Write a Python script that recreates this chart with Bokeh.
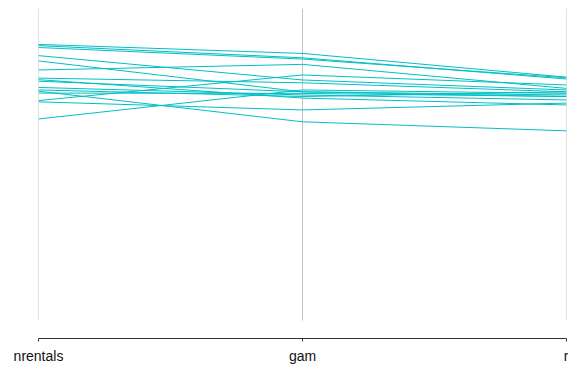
from bokeh.plotting import figure
from bokeh.models import FixedTicker, Range1d, LinearAxis
from bokeh.embed import file_html
from bokeh.resources import INLINE

# Parallel-coordinate values (scaled 0..1 per axis)
dimensions = ["nrentals", "gam", "r"]
nrentals = [0.885, 0.881, 0.875, 0.803, 0.705, 0.849, 0.777, 0.646,
            0.832, 0.767, 0.729, 0.747, 0.739, 0.772, 0.701, 0.735]
gam = [0.856, 0.842, 0.838, 0.821, 0.787, 0.771, 0.762, 0.739,
       0.733, 0.733, 0.728, 0.723, 0.718, 0.713, 0.675, 0.637]
r = [0.780, 0.774, 0.778, 0.744, 0.755, 0.739, 0.733, 0.728,
     0.723, 0.718, 0.718, 0.707, 0.733, 0.691, 0.697, 0.608]
axis_min, axis_max = 0.0, 1.0

xpos = list(range(len(dimensions)))
xs = [xpos for _ in nrentals]
ys = [[a, b, c] for a, b, c in zip(nrentals, gam, r)]

p = figure(width=568, height=366, output_backend="svg", toolbar_location=None,
           x_range=Range1d(0, 2), y_range=Range1d(-0.0573, 1.0),
           x_axis_location=None, y_axis_location=None,
           min_border_left=38, min_border_right=2, min_border_top=8,
           min_border_bottom=0)
p.outline_line_color = None
p.xgrid.visible = False
p.ygrid.visible = False
p.background_fill_color = "white"
p.border_fill_color = "white"

# vertical axis lines per dimension
p.segment(x0=xpos, y0=[axis_min] * 3, x1=xpos, y1=[axis_max] * 3,
          line_color="#c4c4c4", line_width=1)

p.multi_line(xs=xs, ys=ys, line_color="#00BFC4", line_width=1)

ax = LinearAxis(ticker=FixedTicker(ticks=xpos),
                major_label_overrides={i: d for i, d in zip(xpos, dimensions)})
ax.axis_line_color = "#333333"
ax.major_tick_line_color = "#333333"
ax.major_tick_in = 0
ax.major_tick_out = 3
ax.minor_tick_line_color = None
ax.major_label_standoff = 6
ax.major_label_text_font = "Liberation Sans"
ax.major_label_text_font_size = "14px"
ax.major_label_text_color = "#111111"
p.add_layout(ax, "below")
p.min_border_bottom = 26

open("out.html", "w").write(file_html(p, INLINE))
